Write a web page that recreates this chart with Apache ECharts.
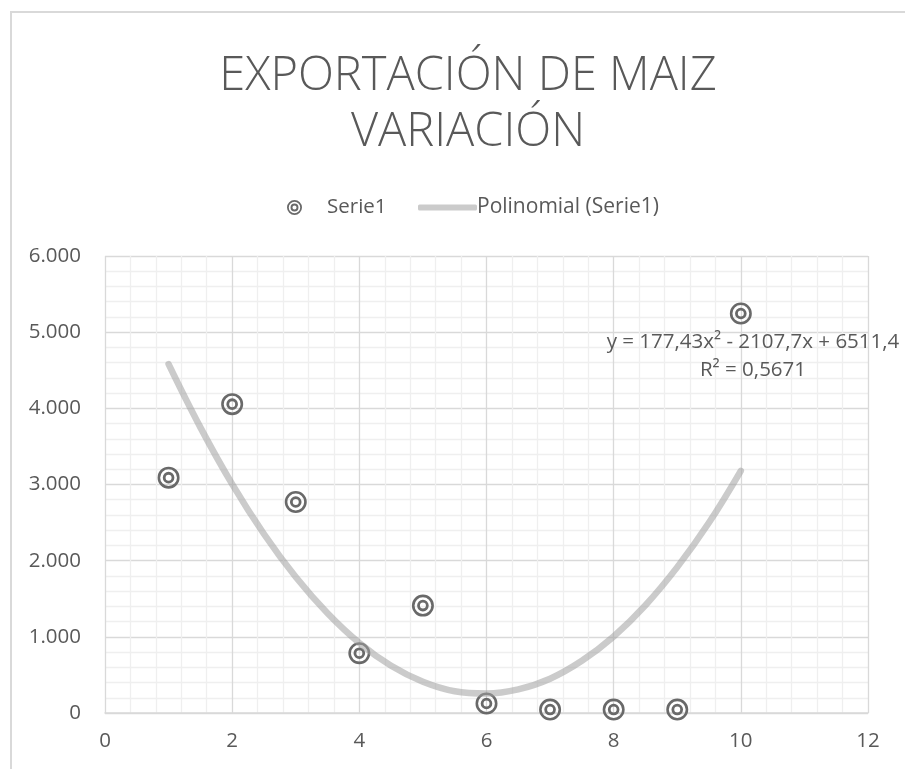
<!DOCTYPE html>
<html>
<head>
<meta charset="utf-8">
<title>Exportación de maiz</title>
<script src="https://cdn.jsdelivr.net/npm/echarts@6/dist/echarts.min.js"></script>
<style>
    html, body { margin: 0; padding: 0; background: #fff; }
    #chart { width: 905px; height: 769px; }
</style>
</head>
<body>
<div id="chart"></div>
<script>
// datos
var xValues = [1, 2, 3, 4, 5, 6, 7, 8, 9, 10];
var serie1 = [3090, 4055, 2770, 785, 1410, 125, 45, 45, 45, 5245];
// linea de tendencia polinomial, leida sobre la curva cada 0,5
var trendX = [1, 1.5, 2, 2.5, 3, 3.5, 4, 4.5, 5, 5.5, 6, 6.5, 7, 7.5, 8, 8.5, 9, 9.5, 10];
var trendValues = [4580, 3750, 3005, 2350, 1785, 1310, 920, 620, 410, 285, 255, 310, 450, 685, 1005, 1415, 1915, 2500, 3180];
var ecuacion = 'y = 177,43x² - 2107,7x + 6511,4';
var r2 = 'R² = 0,5671';

var txtColor = '#595959';
var font = 'Open Sans';
// marcador de doble circulo
var ringPath = 'path://M1,12 A11,11 0 1,0 23,12 A11,11 0 1,0 1,12 Z ' +
    'M3.6,12 A8.4,8.4 0 1,1 20.4,12 A8.4,8.4 0 1,1 3.6,12 Z ' +
    'M6.2,12 A5.8,5.8 0 1,0 17.8,12 A5.8,5.8 0 1,0 6.2,12 Z ' +
    'M9,12 A3,3 0 1,1 15,12 A3,3 0 1,1 9,12 Z';

function miles(v) {
    var s = String(v);
    return s.replace(/\B(?=(\d{3})+(?!\d))/g, '.');
}

var chart = echarts.init(document.getElementById('chart'));
var option = {
    backgroundColor: '#fff',
    animation: false,
    title: {
        text: 'EXPORTACIÓN DE MAIZ\nVARIACIÓN',
        left: 463,
        textAlign: 'center',
        top: 44,
        textStyle: {
            fontFamily: font,
            fontWeight: 300,
            fontSize: 47,
            lineHeight: 56,
            color: txtColor
        }
    },
    legend: [{
        data: [{name: 'Serie1', icon: ringPath}],
        left: 287,
        top: 197,
        padding: 0,
        itemWidth: 15,
        itemHeight: 15,
        textStyle: {color: txtColor, fontFamily: font, fontSize: 20.5, padding: [0, 0, 0, 20]}
    }, {
        data: [{name: 'Polinomial (Serie1)', icon: 'roundRect'}],
        left: 418,
        top: 197,
        padding: 0,
        itemWidth: 59,
        itemHeight: 6,
        textStyle: {color: txtColor, fontFamily: font, fontSize: 21, padding: [0, 0, 0, -5]}
    }],
    grid: {
        left: 105,
        right: 37,
        top: 256,
        bottom: 56
    },
    xAxis: {
        type: 'value',
        min: 0,
        max: 12,
        interval: 2,
        axisLine: {show: true, lineStyle: {color: '#d9d9d9', width: 1.5}},
        axisTick: {show: false},
        axisLabel: {color: txtColor, fontFamily: font, fontSize: 20.5, margin: 18},
        splitLine: {show: true, lineStyle: {color: '#d9d9d9', width: 1.3}},
        minorTick: {show: false, splitNumber: 5},
        minorSplitLine: {show: true, lineStyle: {color: '#efefef', width: 1.3}}
    },
    yAxis: {
        type: 'value',
        min: 0,
        max: 6000,
        interval: 1000,
        axisLine: {show: false},
        axisTick: {show: false},
        axisLabel: {
            color: txtColor, fontFamily: font, fontSize: 20.5, margin: 24,
            formatter: function (v) { return miles(v); }
        },
        splitLine: {show: true, lineStyle: {color: '#d9d9d9', width: 1.3}},
        minorTick: {show: false, splitNumber: 5},
        minorSplitLine: {show: true, lineStyle: {color: '#efefef', width: 1.3}}
    },
    graphic: [{
        type: 'rect',
        shape: {x: 11, y: 12, width: 1000, height: 1000},
        style: {fill: 'none', stroke: '#d9d9d9', lineWidth: 2},
        silent: true
    }, {
        type: 'text',
        x: 753,
        y: 356,
        z: 10,
        style: {
            text: ecuacion + '\n' + r2,
            fill: txtColor,
            font: '20.5px "Open Sans"',
            lineHeight: 28,
            align: 'center',
            verticalAlign: 'middle'
        }
    }],
    series: [{
        name: 'Serie1',
        type: 'scatter',
        symbol: ringPath,
        symbolSize: 22,
        itemStyle: {color: '#696969', opacity: 1},
        data: xValues.map(function (x, i) { return [x, serie1[i]]; })
    }, {
        name: 'Polinomial (Serie1)',
        type: 'line',
        smooth: 0.4,
        showSymbol: false,
        symbol: 'none',
        itemStyle: {color: '#cbcbcb'},
        lineStyle: {color: 'rgba(160,160,160,0.55)', width: 6.5, cap: 'round', join: 'round'},
        data: trendX.map(function (x, i) { return [x, trendValues[i]]; })
    }]
};
chart.setOption(option);
</script>
</body>
</html>
